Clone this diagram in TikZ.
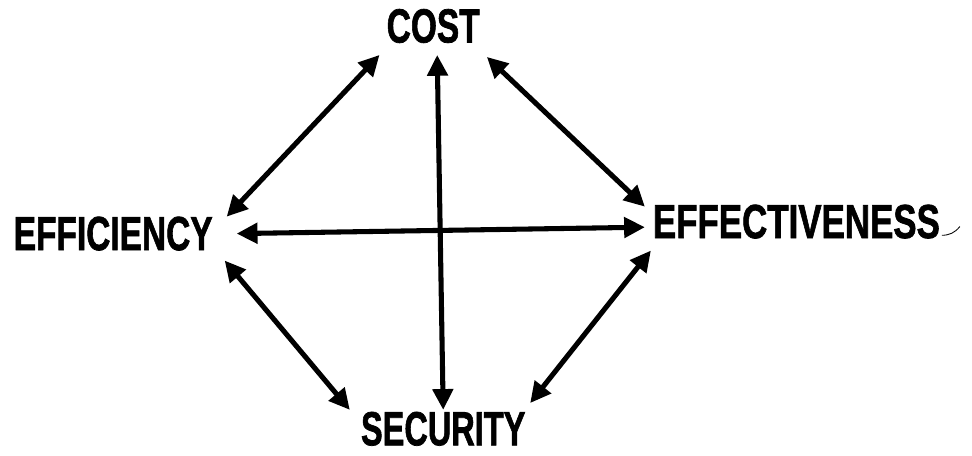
\documentclass[tikz,border=0pt]{standalone}
\usepackage{fontspec}
\setmainfont{Liberation Sans}[BoldFeatures={FakeBold=1.6}]
\usetikzlibrary{arrows.meta,positioning,calc}
\newcommand{\narrowword}[2][.7]{\scalebox{#1}[1]{#2}}
\tikzset{
  >={Triangle[length=5.2mm,width=5mm]},
  word/.style={inner sep=0pt,outer sep=0pt,font=\fontsize{34}{36}\selectfont\bfseries},
  link/.style={<->,line width=3.6pt,draw=black},
  tail/.style={line width=.6pt,draw=black}
}
\begin{document}
\begin{tikzpicture}[x=1cm,y=1cm]
    \useasboundingbox (0,0) rectangle (24.3,-11.4);
    \node[word] (cost) at (10.83,-0.65) {\narrowword{COST}};
    \node[word] (effic) at (2.83,-5.84) {\narrowword{EFFICIENCY}};
    \node[word] (effect) at (19.91,-5.54) {\narrowword[.73]{EFFECTIVENESS}};
    \node[word] (secur) at (11.08,-10.72) {\narrowword[.68]{SECURITY}};
    \draw[link] ([xshift=-.18cm,yshift=-.3cm]cost.south west)--([xshift=.35cm]effic.north east);
    \draw[link] ([xshift=.1cm,yshift=-.3cm]cost.south)--([yshift=.05cm]secur.north);
    \draw[link] ([xshift=.6cm]effic.east)--([xshift=-.2cm,yshift=-.14cm]effect.west);
    \draw[link] ([xshift=.18cm,yshift=-.35cm]cost.south east)--([xshift=-.2cm,yshift=-.05cm]effect.north west);
    \draw[link] ([xshift=.3cm,yshift=-.25cm]effic.south east)--([xshift=-.28cm,yshift=.05cm]secur.north west);
    \draw[link] ([xshift=-.05cm,yshift=-.3cm]effect.south west)--([xshift=.12cm,yshift=.22cm]secur.north east);
    \coordinate (curl) at ($(effect.south east)+(.5,.3)$);
    \draw[tail] ([xshift=.05cm,yshift=.08cm]effect.south east) to[bend right=25] (curl);
  \end{tikzpicture}
\end{document}
